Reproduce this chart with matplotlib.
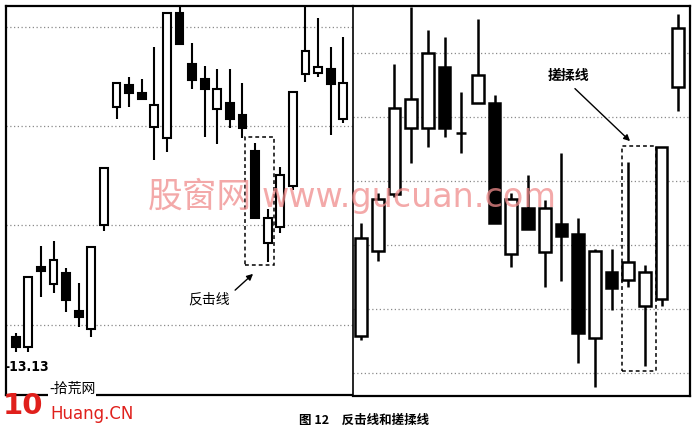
import matplotlib
matplotlib.use("Agg")
import matplotlib.pyplot as plt
import numpy as np

plt.rcParams['font.family'] = ['Noto Sans CJK SC', 'DejaVu Sans']

# ---- left panel (反击线) ----
left_open  = [13.28, 13.18, 13.98, 13.81, 13.92, 13.54, 13.36, 14.40, 15.58, 15.80, 15.72, 15.38, 15.27, 16.52,
              16.01, 15.86, 15.56, 15.62, 15.50, 15.14, 14.22, 14.38, 14.79, 15.91, 15.92, 15.96, 15.46]
left_close = [13.18, 13.88, 13.94, 14.05, 13.65, 13.48, 14.18, 14.97, 15.82, 15.72, 15.66, 15.60, 16.52, 16.21,
              15.85, 15.76, 15.76, 15.46, 15.37, 14.47, 14.47, 14.90, 15.73, 16.14, 15.98, 15.81, 15.82]
left_high  = [13.32, 13.88, 14.19, 14.24, 13.97, 13.82, 14.18, 14.97, 15.82, 15.88, 15.86, 16.18, 16.52, 16.62,
              16.22, 15.99, 15.96, 15.96, 15.82, 15.22, 14.56, 14.98, 15.73, 16.62, 16.47, 16.18, 16.28]
left_low   = [13.13, 13.13, 13.68, 13.72, 13.53, 13.38, 13.28, 14.34, 15.46, 15.58, 15.65, 15.05, 15.13, 16.21,
              15.76, 15.28, 15.21, 15.37, 15.27, 14.47, 14.03, 14.32, 14.75, 15.83, 15.88, 15.30, 15.42]
left_grid = [13.40, 14.40, 15.39, 16.38]
left_low_label = "-13.13"

# ---- right panel (搓揉线) ----
right_open  = [10.58, 11.91, 12.80, 13.83, 13.83, 14.77, 13.75, 14.22, 14.22, 11.86, 12.58, 11.89, 12.33, 12.17,
               10.55, 11.58, 11.45, 11.05, 11.16, 14.47]
right_close = [12.11, 12.72, 14.13, 14.27, 15.00, 13.83, 13.75, 14.66, 12.34, 12.72, 12.25, 12.58, 12.14, 10.63,
               11.91, 11.33, 11.73, 11.58, 13.53, 15.39]
right_high  = [12.34, 12.81, 14.83, 15.72, 15.36, 15.25, 14.38, 15.52, 14.34, 12.81, 13.09, 12.70, 13.44, 12.42,
               11.94, 11.94, 13.30, 11.69, 13.53, 15.61]
right_low   = [10.52, 11.75, 12.75, 13.28, 13.53, 13.69, 13.44, 14.22, 12.34, 11.66, 12.25, 11.34, 11.44, 10.16,
               9.78, 10.98, 11.34, 10.11, 11.05, 14.09]
right_grid = [10, 11, 12, 13, 14, 15]

caption = "图 12　反击线和搓揉线"
label_left = "反击线"
label_right = "搓揉线"

W, H = 697, 432
fig = plt.figure(figsize=(W / 100, H / 100), dpi=100)
fig.patch.set_facecolor('white')


def fx(px):
    return px / W


def fy(py):
    return 1 - py / H


axL = fig.add_axes([fx(6), fy(395), fx(353) - fx(6), fy(6) - fy(395)])
axR = fig.add_axes([fx(353), fy(396), fx(690) - fx(353), fy(6) - fy(396)])


def draw_candles(ax, o, c, h, l, width, lw):
    x = np.arange(len(o))
    for i in x:
        ax.vlines(i, l[i], h[i], color='black', lw=lw, zorder=2)
        lo, hi = min(o[i], c[i]), max(o[i], c[i])
        if hi - lo < 1e-6:
            ax.hlines(o[i], i - width * 0.45, i + width * 0.45, color='black', lw=lw, zorder=3)
            continue
        fc = 'white' if c[i] > o[i] else 'black'
        ax.bar(i, hi - lo, bottom=lo, width=width, facecolor=fc, edgecolor='black',
               linewidth=lw, zorder=3)


for ax in (axL, axR):
    ax.set_facecolor('white')
    ax.set_xticks([])
    ax.set_yticks([])
    for s in ax.spines.values():
        s.set_linewidth(1.6)
        s.set_color('black')

axL.spines['right'].set_visible(False)
axR.spines['left'].set_linewidth(1.2)

# grids
for g in left_grid:
    axL.axhline(g, color='#8a8a8a', lw=0.9, ls=(0, (1, 2)), zorder=1)
for g in right_grid:
    axR.axhline(g, color='#8a8a8a', lw=0.9, ls=(0, (1, 2)), zorder=1)

draw_candles(axL, left_open, left_close, left_high, left_low, 0.62, 1.5)
draw_candles(axR, right_open, right_close, right_high, right_low, 0.70, 1.8)

axL.set_xlim(-0.77, 26.77)
axL.set_ylim(12.70, 16.59)
axR.set_xlim(-0.48, 19.70)
axR.set_ylim(9.64, 15.73)

# dashed boxes
axL.add_patch(plt.Rectangle((18.2, 14.00), 2.3, 1.28, fill=False, ec='black', lw=1.1,
                            ls=(0, (2.5, 2)), zorder=4))
axR.add_patch(plt.Rectangle((15.63, 10.03), 2.03, 3.52, fill=False, ec='black', lw=1.1,
                            ls=(0, (2.5, 2)), zorder=4))

# arrows and labels
axL.annotate('', xy=(19.0, 13.93), xytext=(17.25, 13.73),
             arrowprops=dict(arrowstyle='-|>', color='black', lw=1.0, mutation_scale=9))
axL.text(15.34, 13.66, label_left, ha='center', va='center', fontsize=10, color='black')
axR.annotate('', xy=(16.23, 13.59), xytext=(12.69, 14.47),
             arrowprops=dict(arrowstyle='-|>', color='black', lw=1.0, mutation_scale=9))
axR.text(12.4, 14.64, label_right, ha='center', va='center', fontsize=10, color='black',
         fontweight='bold')

axL.text(0.9, 12.98, left_low_label, ha='center', va='center', fontsize=10, fontweight='bold',
         family=['DejaVu Sans'], fontstretch='condensed', color='black')

# caption
fig.text(fx(364), fy(420), caption, ha='center', va='center', fontsize=9, color='black',
         fontweight='bold')

# watermarks
fig.text(fx(148), fy(197), "股窗网", ha='left', va='center', fontsize=25, color='#f08c8c',
         alpha=0.75, zorder=10)
fig.text(fx(262), fy(197), "www.gucuan.com", ha='left', va='center', fontsize=24,
         color='#f08c8c', alpha=0.75, zorder=10, family=['DejaVu Sans'])

fig.text(fx(3), fy(406), "10", ha='left', va='center', fontsize=21, color='#e0201c',
         fontweight='bold', zorder=10, family=['DejaVu Sans'])
fig.text(fx(49), fy(389), "-拾荒网", ha='left', va='center', fontsize=10, color='black',
         zorder=10, bbox=dict(facecolor='white', edgecolor='none', pad=0.5))
fig.text(fx(50), fy(414), "Huang.CN", ha='left', va='center', fontsize=12, color='#e0201c',
         zorder=10, family=['DejaVu Sans'])

fig.savefig('out.png', dpi=100, facecolor='white')
